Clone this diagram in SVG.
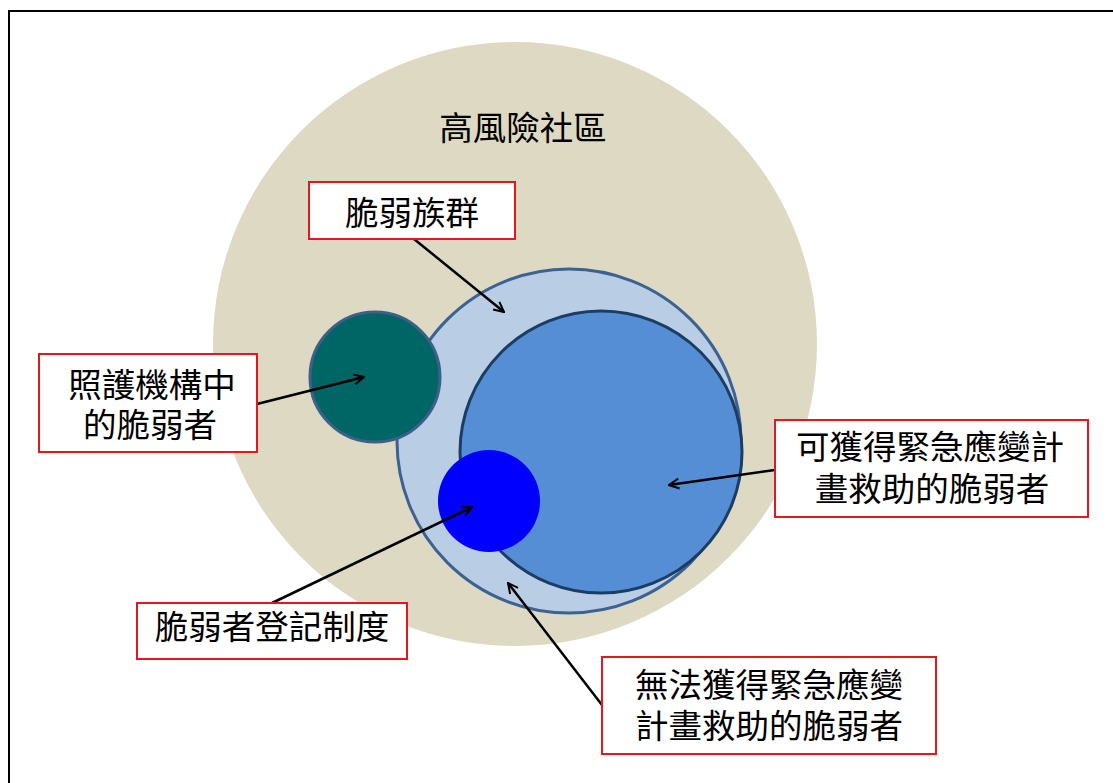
<svg xmlns="http://www.w3.org/2000/svg" width="1113" height="783" viewBox="0 0 1113 783">
<defs>
<marker id="arr" viewBox="0 0 12 12" refX="11" refY="6" markerWidth="12" markerHeight="12" markerUnits="userSpaceOnUse" orient="auto">
<path d="M1,1 L11,6 L1,11" fill="none" stroke="#000" stroke-width="2"/>
</marker>
</defs>
<style>
.lbl{fill:#fff;stroke:#e0191f;stroke-width:2}
.t{font-family:"Liberation Sans","Noto Sans CJK TC",sans-serif;font-size:33.5px;fill:#000;text-anchor:middle}
.c{fill:none;stroke:#000;stroke-width:2.5}
</style>
<rect x="0" y="0" width="1113" height="783" fill="#fff"/>
<rect x="9" y="11" width="1120" height="800" fill="none" stroke="#000" stroke-width="2"/>
<g id="community">
<circle cx="515" cy="344" r="302" fill="#ddd9c3"/>
<text class="t" x="523" y="140">高風險社區</text>
</g>
<g id="vulnerable">
<circle cx="569" cy="441" r="172" fill="#b9cde5" stroke="#3b6291" stroke-width="3"/>
</g>
<g id="covered">
<circle cx="601" cy="452" r="141" fill="#558ed5" stroke="#1b3d63" stroke-width="3"/>
</g>
<g id="care">
<circle cx="375" cy="377" r="65" fill="#006665" stroke="#3e5f8a" stroke-width="3"/>
</g>
<g id="registry">
<circle cx="489" cy="501" r="51" fill="#0000ff"/>
</g>
<g id="connectors">
<line class="c" x1="414" y1="239" x2="504" y2="312" marker-end="url(#arr)"/>
<line class="c" x1="257" y1="404" x2="364" y2="377" marker-end="url(#arr)"/>
<line class="c" x1="775" y1="470" x2="669" y2="485" marker-end="url(#arr)"/>
<line class="c" x1="272" y1="603" x2="472" y2="507" marker-end="url(#arr)"/>
<line class="c" x1="602" y1="705" x2="508" y2="583" marker-end="url(#arr)"/>
</g>
<g id="lbl-vulnerable">
<rect class="lbl" x="309" y="182" width="206" height="57"/>
<text class="t" x="412" y="225">脆弱族群</text>
</g>
<g id="lbl-care">
<rect class="lbl" x="39" y="354" width="218" height="98"/>
<text class="t" x="152" y="397">照護機構中</text>
<text class="t" x="150" y="437">的脆弱者</text>
</g>
<g id="lbl-covered">
<rect class="lbl" x="775" y="420" width="313" height="97"/>
<text class="t" x="930" y="459">可獲得緊急應變計</text>
<text class="t" x="932" y="501">畫救助的脆弱者</text>
</g>
<g id="lbl-registry">
<rect class="lbl" x="137" y="603" width="270" height="56"/>
<text class="t" x="272" y="639">脆弱者登記制度</text>
</g>
<g id="lbl-uncovered">
<rect class="lbl" x="602" y="657" width="334" height="97"/>
<text class="t" x="769" y="697">無法獲得緊急應變</text>
<text class="t" x="769" y="738">計畫救助的脆弱者</text>
</g>
</svg>
